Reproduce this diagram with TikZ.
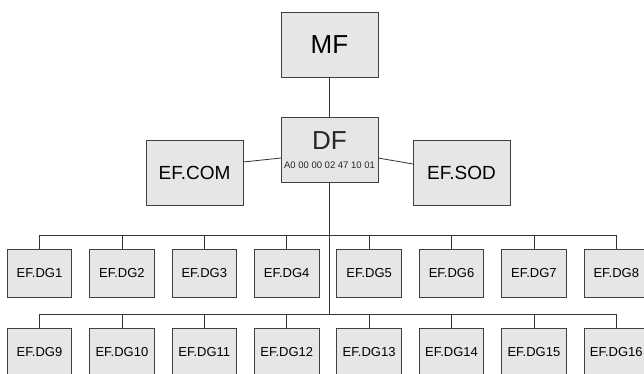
\documentclass[tikz,border=0pt]{standalone}
\usepackage{fontspec}
\setmainfont{Liberation Sans}
\definecolor{boxfill}{HTML}{E6E6E6}
\definecolor{boxline}{HTML}{404040}
\definecolor{connline}{HTML}{333333}
\begin{document}
\begin{tikzpicture}[x=1pt,y=-1pt,
  box/.style={draw=boxline, fill=boxfill, line width=0.9pt, inner sep=0pt, outer sep=0pt},
  bigbox/.style={box, minimum width=97pt, minimum height=65pt},
  dgbox/.style={box, minimum width=64.5pt, minimum height=48pt, font=\fontsize{13}{15}\selectfont},
  conn/.style={draw=connline, line width=0.8pt},
  lbl/.style={inner sep=0pt, text=black!85}]
\useasboundingbox (0,0) rectangle (644,373);
\clip (0,0) rectangle (644,373);
% top level
\node[bigbox, font=\fontsize{26}{28}\selectfont] (MF) at (329.5,44.5) {MF};
\node[bigbox] (DF) at (329.5,149.5) {};
\node[lbl, font=\fontsize{26}{28}\selectfont] (DFt) at (329.5,141) {DF};
\node[lbl, font=\fontsize{9.5}{11}\selectfont] (DFaid) at (329.5,165) {A0 00 00 02 47 10 01};
\node[bigbox, font=\fontsize{19}{21}\selectfont] (COM) at (194.5,173) {EF.COM};
\node[bigbox, font=\fontsize{19}{21}\selectfont] (SOD) at (461.5,172.5) {EF.SOD};
% bus coordinates
\coordinate (bus1) at (329,235);
\coordinate (bus2) at (329,314);
% data groups
\foreach \i in {1,...,8} {
  \node[dgbox] (dg\i) at ({39.5+82.4*(\i-1)},273) {EF.DG\i};
}
\foreach \i [evaluate=\i as \j using int(\i+8)] in {1,...,8} {
  \node[dgbox] (dg\j) at ({39.5+82.4*(\i-1)},352) {EF.DG\j};
}
% connectors
\draw[conn] (MF.south) -- (DF.north);
\draw[conn] ([yshift=11pt]COM.east) -- ([yshift=-8.5pt]DF.west);
\draw[conn] ([yshift=-8.5pt]DF.east) -- ([yshift=8.5pt]SOD.west);
\draw[conn] (DF.south) -- (DF.south |- bus2);
\draw[conn] (dg1.north) -- (dg1.north |- bus1) -- (dg8.north |- bus1) -- (dg8.north);
\draw[conn] (dg9.north) -- (dg9.north |- bus2) -- (dg16.north |- bus2) -- (dg16.north);
\foreach \i in {2,...,7} {
  \draw[conn] (dg\i.north) -- (dg\i.north |- bus1);
}
\foreach \i in {10,...,15} {
  \draw[conn] (dg\i.north) -- (dg\i.north |- bus2);
}
\end{tikzpicture}
\end{document}
